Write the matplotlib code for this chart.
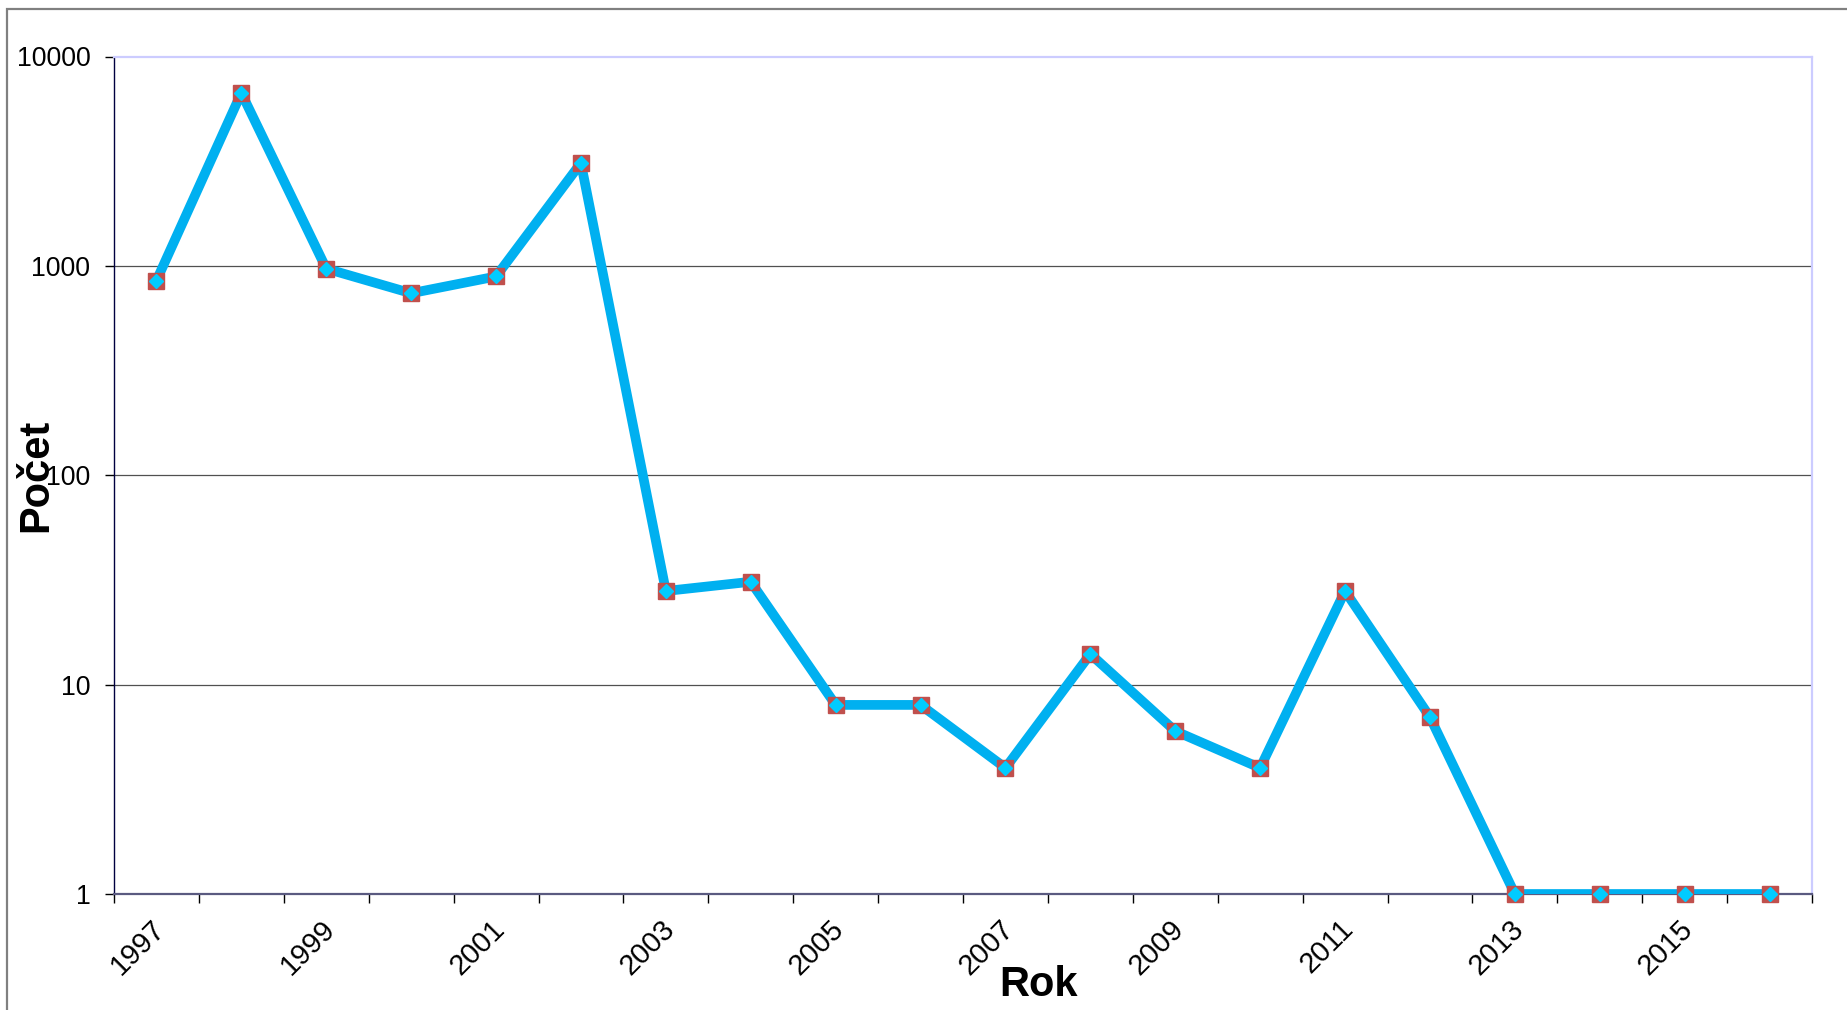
import matplotlib
matplotlib.use("Agg")
import matplotlib.pyplot as plt
from matplotlib.patches import Rectangle
from matplotlib.transforms import ScaledTranslation

plt.rcParams['font.family'] = ['Liberation Sans', 'DejaVu Sans']

years = list(range(1997, 2017))
counts = [850, 6700, 970, 740, 890, 3100, 28, 31, 8, 8, 4, 14, 6, 4, 28, 7, 1, 1, 1, 1]
label_years = [1997, 1999, 2001, 2003, 2005, 2007, 2009, 2011, 2013, 2015]
yticks = [1, 10, 100, 1000, 10000]
ytick_labels = ["1", "10", "100", "1000", "10000"]
x_title = "Rok"
y_title = "Počet"

W, H = 1847, 1010
fig = plt.figure(figsize=(W / 100, H / 100), dpi=100)
fig.patch.set_facecolor('white')

# outer chart border
fig.patches.append(Rectangle((7 / W, -0.1), 1.2, 1 - 9 / H + 0.1, transform=fig.transFigure,
                             fill=False, edgecolor='#808080', linewidth=1.6))

left, right, top, bottom = 114, 1812, 56.5, 894
ax = fig.add_axes([left / W, 1 - bottom / H, (right - left) / W, (bottom - top) / H])

idx = list(range(len(years)))
ax.set_yscale('log')
ax.set_ylim(yticks[0], yticks[-1])
ax.set_xlim(-0.5, len(years) - 0.5)

for v in yticks[1:-1]:
    ax.axhline(v, color='#505050', lw=0.9, zorder=1)

ax.plot(idx, counts, color='#00B0F0', lw=7.0, zorder=3, clip_on=True, solid_joinstyle='round')
ax.plot(idx, counts, 's', ms=11, color='#C0504D', zorder=4, clip_on=False)
ax.plot(idx, counts, 'D', ms=7.6, color='#00CCFF', zorder=5, clip_on=False)

# y axis
ax.set_yticks(yticks)
ax.set_yticklabels(ytick_labels)
ax.yaxis.set_minor_locator(matplotlib.ticker.NullLocator())
ax.tick_params(axis='y', which='major', direction='out', length=6.5, width=1, color='#000000',
               pad=10.5, labelsize=19.2)

# x axis: tick marks at category boundaries, labels at category centres
ax.set_xticks([i - 0.5 for i in range(len(years) + 1)])
ax.set_xticklabels([])
ax.tick_params(axis='x', which='major', direction='out', length=6.5, width=1, color='#000000')
lab_pos = [years.index(y) for y in label_years]
ax.set_xticks(lab_pos, minor=True)
ax.set_xticklabels([str(y) for y in label_years], minor=True, rotation=45, ha='right', va='top')
ax.tick_params(axis='x', which='minor', length=0, pad=15, labelsize=20.8)
offset = ScaledTranslation(0.14, 0, fig.dpi_scale_trans)
for lab in ax.get_xticklabels(minor=True):
    lab.set_transform(lab.get_transform() + offset)

for s in ['top', 'right']:
    ax.spines[s].set_color('#CCCCFF')
    ax.spines[s].set_linewidth(1.6)
ax.spines['left'].set_color('#000040')
ax.spines['left'].set_linewidth(1.0)
ax.spines['bottom'].set_color('#5A5A80')
ax.spines['bottom'].set_linewidth(1.6)

fig.text(1038 / W, 1 - 985 / H, x_title, fontsize=30, fontweight='bold', ha='center', va='center')
fig.text(36 / W, 1 - 475 / H, y_title, fontsize=30, fontweight='bold', ha='center', va='center',
         rotation=90)

fig.savefig('out.png', dpi=100, facecolor='white')
